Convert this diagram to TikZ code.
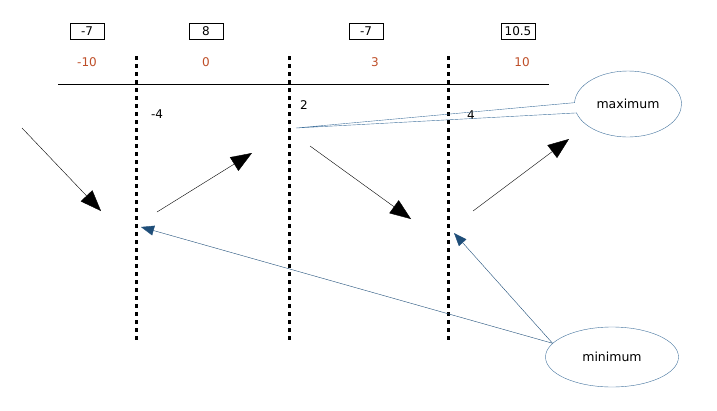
\documentclass[tikz,border=0pt]{standalone}
\usepackage{fontspec}
\setmainfont{DejaVu Sans}
\usepackage{tikz}
\usetikzlibrary{calc,positioning,arrows.meta,shapes.geometric,shapes.callouts}
\definecolor{rust}{RGB}{190,78,40}
\definecolor{navy}{RGB}{31,78,121}
\definecolor{slate}{RGB}{65,113,156}

\begin{document}
\begin{tikzpicture}[x=1pt,y=-1pt]

\tikzset{valbox/.style={draw,font=\fontsize{12}{13}\selectfont,minimum width=34pt,minimum height=16pt,inner sep=0pt},
numlabel/.style={text=rust,font=\fontsize{12}{13}\selectfont},
cutlabel/.style={font=\fontsize{12}{13}\selectfont},
divider/.style={line width=3pt,dash pattern=on 4pt off 4pt},
move/.style={thin,-{Triangle[length=21pt,width=16pt]}},
pointer/.style={navy,thin,-{Triangle[length=13pt,width=10pt]}},
bubble/.style={draw=slate,font=\fontsize{12.5}{13}\selectfont,inner sep=0pt}}

\useasboundingbox (0,0) rectangle (717,410);

% Boxed values
\node[valbox] (v1) at (87,31) {-7};
\node[valbox] (v2) at (206,31) {8};
\node[valbox] (v3) at (366,31) {-7};
\node[valbox] (v4) at (518,31) {10.5};

% Coloured values
\node[numlabel] (n1) at (87,62) {-10};
\node[numlabel] (n2) at (206,62) {0};
\node[numlabel] (n3) at (375,62) {3};
\node[numlabel] (n4) at (522,62) {10};

% Base line
\draw (58,84) -- (549,84);

% Dividers
\foreach \x in {136, 289, 448} \draw[divider] (\x,56) -- (\x,343);

% Cut values
\node[cutlabel] (c1) at (157,114) {-4};
\node[cutlabel] (c2) at (304,105) {2};
\node[cutlabel] (c3) at (471,115) {4};

% Moves
\coordinate (m1s) at (22,128); \coordinate (m1e) at (101,211);
\coordinate (m2s) at (157,212); \coordinate (m2e) at (252,153);
\coordinate (m3s) at (310,146); \coordinate (m3e) at (411,219);
\coordinate (m4s) at (473,211); \coordinate (m4e) at (569,139);
\draw[move] (m1s) -- (m1e); \draw[move] (m2s) -- (m2e); \draw[move] (m3s) -- (m3e); \draw[move] (m4s) -- (m4e);

% Callouts
\coordinate (maxTip) at (296,128);
\node[bubble,ellipse callout,callout absolute pointer={(maxTip)},callout pointer arc=18,minimum width=107pt,minimum height=66pt] (maxi) at (628,104) {maximum};
\node[bubble,ellipse,minimum width=133pt,minimum height=60pt] (mini) at (612,357) {minimum};

\coordinate (lowA) at (141,227);
\coordinate (lowB) at (454,233);
\draw[pointer] (mini.167) -- (lowA); \draw[pointer] (mini.167) -- (lowB);

\end{tikzpicture}
\end{document}
